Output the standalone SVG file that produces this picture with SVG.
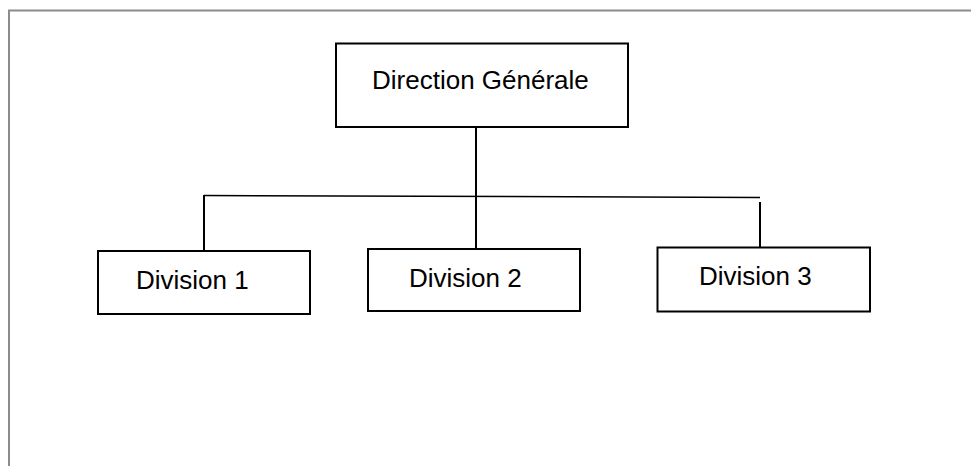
<svg xmlns="http://www.w3.org/2000/svg" width="971" height="466" viewBox="0 0 971 466">
  <style>
    .frame { fill: none; stroke: #8c8c8c; stroke-width: 2; }
    .box { fill: #ffffff; stroke: #000000; stroke-width: 2; }
    .label { font-family: "Liberation Sans", Arial, sans-serif; font-size: 26px; fill: #000000; }
    .wire { fill: none; stroke: #000000; stroke-width: 2; }
    .bus { fill: none; stroke: #000000; stroke-width: 1.5; }
  </style>
  <rect width="971" height="466" fill="#ffffff"/>
  <!-- page frame, open to the right and bottom -->
  <path class="frame" d="M9 480 V10.5 H990"/>

  <g id="connectors">
    <line class="wire" x1="476" y1="127" x2="476" y2="249"/>
    <line class="bus" x1="204" y1="195.5" x2="760" y2="197.5"/>
    <line class="wire" x1="204" y1="195" x2="204" y2="250"/>
    <line class="wire" x1="760" y1="202" x2="760" y2="248"/>
  </g>

  <g id="direction-generale">
    <rect class="box" x="336" y="43.5" width="292" height="83.5"/>
    <text class="label" x="372" y="89">Direction Générale</text>
  </g>

  <g id="division-1">
    <rect class="box" x="98" y="251" width="212" height="63"/>
    <text class="label" x="136" y="289">Division 1</text>
  </g>

  <g id="division-2">
    <rect class="box" x="368" y="249" width="212" height="62"/>
    <text class="label" x="409" y="287">Division 2</text>
  </g>

  <g id="division-3">
    <rect class="box" x="657.5" y="247.5" width="212.5" height="64"/>
    <text class="label" x="699" y="285">Division 3</text>
  </g>
</svg>
